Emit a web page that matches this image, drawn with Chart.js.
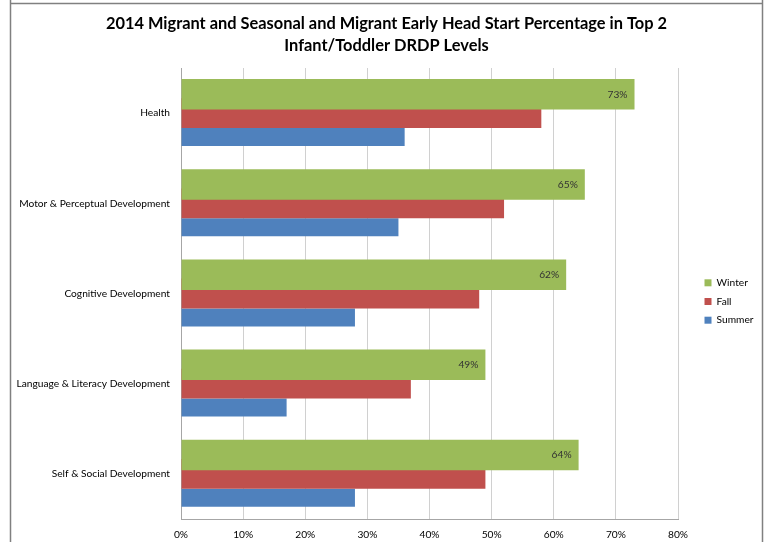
<!DOCTYPE html>
<html>
<head>
<meta charset="utf-8">
<script src="https://cdn.jsdelivr.net/npm/chart.js@4.4.1/dist/chart.umd.min.js"></script>
<style>
  html, body { margin: 0; padding: 0; background: #fff; }
  #wrap { position: relative; width: 767px; height: 542px; }
</style>
</head>
<body>
<div id="wrap"><canvas id="drdp"></canvas></div>
<script>
const domains = [
    'Health',
    'Motor & Perceptual Development',
    'Cognitive Development',
    'Language & Literacy Development',
    'Self & Social Development'
];
const winter = [73, 65, 62, 49, 64];
const fall = [58, 52, 48, 37, 49];
const summer = [36, 35, 28, 17, 28];
const pctTicks = [0, 10, 20, 30, 40, 50, 60, 70, 80];

const titleLines = [
    '2014 Migrant and Seasonal and Migrant Early Head Start Percentage in Top 2',
    'Infant/Toddler DRDP Levels'
];

const baseFont = { family: 'Lato', size: 10.2 };

// white page + the grey frame around the old excel chart
const frame = {
    id: 'frame',
    beforeDraw(chart) {
        const c = chart.ctx;
        c.save();
        c.fillStyle = '#fff';
        c.fillRect(0, 0, chart.width, chart.height);
        c.strokeStyle = '#808080';
        c.lineWidth = 1.5;
        c.beginPath();
        c.moveTo(10.5, 0); c.lineTo(10.5, chart.height);
        c.moveTo(10.5, 3.5); c.lineTo(762.5, 3.5);
        c.moveTo(762.5, 0); c.lineTo(762.5, chart.height);
        c.stroke();
        c.restore();
    }
};

// only the winter bars carry a value label
const winterLabels = {
    id: 'winterLabels',
    afterDatasetsDraw(chart) {
        const meta = chart.getDatasetMeta(0);
        const c = chart.ctx;
        c.save();
        c.font = '10.2px Lato';
        c.fillStyle = '#333';
        c.textAlign = 'right';
        c.textBaseline = 'middle';
        meta.data.forEach((bar, i) => {
            c.fillText(winter[i] + '%', bar.x - 7, bar.y);
        });
        c.restore();
    }
};

// title is centred on the whole frame, legend sits further out from the plot
const nudge = {
    id: 'nudge',
    afterLayout(chart) {
        const t = chart.titleBlock;
        t.left += 17.5; t.right += 17.5;
        const lg = chart.legend;
        lg.left += 18; lg.right += 18;
        lg.top += 8; lg.bottom += 8;
    }
};

document.addEventListener('DOMContentLoaded', () => {
    const ctx = document.getElementById('drdp');

    new Chart(ctx, {
        type: 'bar',
        data: {
            labels: domains,
            datasets: [
                {
                    label: 'Winter',
                    data: winter,
                    backgroundColor: '#9BBB59',
                    // thicker bar on top, as in the excel original
                    categoryPercentage: 0.627,
                    barPercentage: 1.618
                },
                {
                    label: 'Fall',
                    data: fall,
                    backgroundColor: '#C0504D',
                    // top half sits under the winter bar
                    categoryPercentage: 0.627,
                    barPercentage: 1.581
                },
                {
                    label: 'Summer',
                    data: summer,
                    backgroundColor: '#4F81BD',
                    categoryPercentage: 0.795,
                    barPercentage: 0.753
                }
            ]
        },
        options: {
            indexAxis: 'y',
            responsive: true,
            maintainAspectRatio: false,
            animation: false,
            layout: { padding: { left: 0, right: 29, top: 0, bottom: 0 } },
            plugins: {
                title: {
                    display: true,
                    text: titleLines,
                    color: '#000',
                    font: { family: 'Lato', size: 16.4, weight: 'bold', lineHeight: 1.311 },
                    padding: { top: 13.25, bottom: 11.75 }
                },
                legend: {
                    position: 'right',
                    fullSize: false,
                    maxWidth: 60,
                    labels: {
                        boxWidth: 7,
                        boxHeight: 7,
                        padding: 8.5,
                        color: '#000',
                        font: baseFont
                    }
                },
                tooltip: { enabled: false }
            },
            scales: {
                x: {
                    min: pctTicks[0],
                    max: pctTicks[pctTicks.length - 1],
                    ticks: {
                        stepSize: pctTicks[1] - pctTicks[0],
                        padding: 9.4,
                        color: '#000',
                        font: baseFont,
                        callback: v => v + '%'
                    },
                    grid: { color: '#d0d0d0', drawTicks: false, tickLength: 0 },
                    border: { color: '#a6a6a6' },
                    afterFit(scale) {
                        scale.height = 23;
                    }
                },
                y: {
                    grid: { display: false, drawTicks: false },
                    border: { color: '#a6a6a6' },
                    ticks: { padding: 11, color: '#000', font: baseFont },
                    afterFit(scale) {
                        scale.width = 181;
                    }
                }
            }
        },
        plugins: [frame, winterLabels, nudge]
    });
});
</script>
</body>
</html>
